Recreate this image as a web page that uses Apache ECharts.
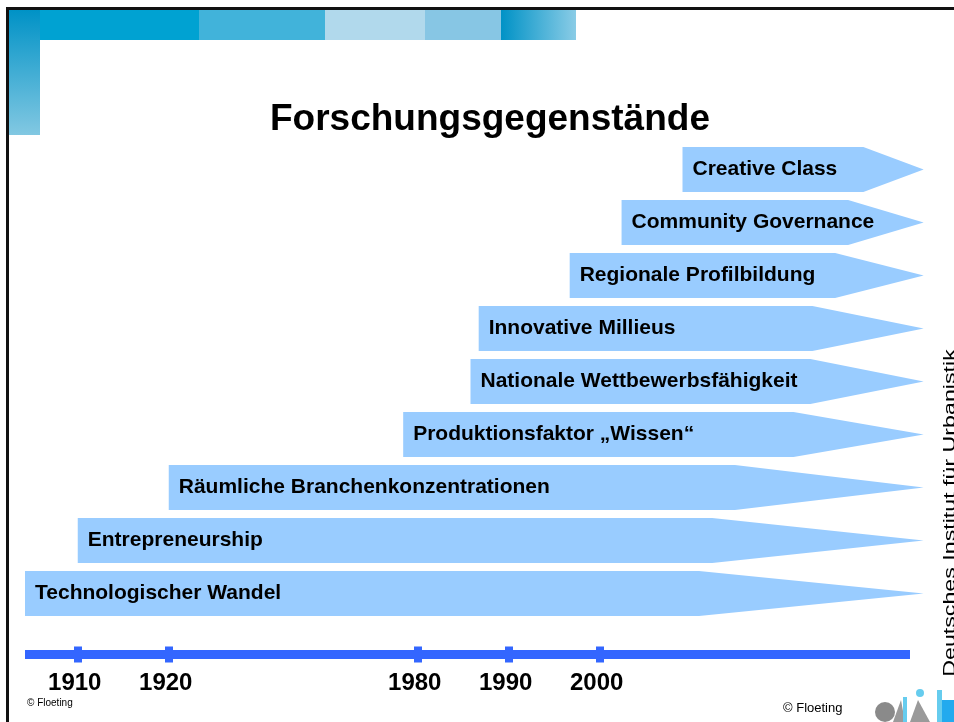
<!DOCTYPE html>
<html>
<head>
<meta charset="utf-8">
<title>Forschungsgegenstände</title>
<script src="https://cdn.jsdelivr.net/npm/echarts@6/dist/echarts.min.js"></script>
<style>
  html, body { margin: 0; padding: 0; background: #fff; }
  #chart { width: 954px; height: 722px; }
</style>
</head>
<body>
<div id="chart"></div>
<script>
// topics, bottom row first
const topics = [
  'Technologischer Wandel',
  'Entrepreneurship',
  'Räumliche Branchenkonzentrationen',
  'Produktionsfaktor „Wissen“',
  'Nationale Wettbewerbsfähigkeit',
  'Innovative Millieus',
  'Regionale Profilbildung',
  'Community Governance',
  'Creative Class',
]
const startYears = [1904.2, 1910, 1920, 1978.4, 1985.8, 1986.7, 1996.7, 2002.4, 2009.1]
const tickYears = [1910, 1920, 1980, 1990, 2000]

const AXIS_MIN = 1904.2
const AXIS_MAX = 2034.1
const ARROW_TIP = 2035.6
// the 1930s..1960s are squeezed on the timeline
const TIME_BREAKS = [{ start: 1930, end: 1970, gap: 7.36 }]

const FONT = '"Liberation Sans", Arial, sans-serif'
const BAR_COLOR = '#99ccff'
const LINE_COLOR = '#3366ff'

const chart = echarts.init(document.getElementById('chart'), null, { renderer: 'canvas' })

function renderArrow(params, api) {
  const row = api.value(1)
  const p0 = api.coord([api.value(0), row])
  const p1 = api.coord([ARROW_TIP, row])
  const h = api.size([0, 1])[1] * 0.85
  const x0 = p0[0]
  const x1 = p1[0]
  const y = p0[1]
  const xh = x0 + (x1 - x0) * 0.75
  return {
    type: 'group',
    children: [
      {
        type: 'polygon',
        shape: { points: [[x0, y - h / 2], [xh, y - h / 2], [x1, y], [xh, y + h / 2], [x0, y + h / 2]] },
        style: { fill: BAR_COLOR },
      },
      {
        type: 'text',
        x: x0 + 10,
        y: y,
        style: {
          text: topics[params.dataIndex],
          fill: '#000',
          font: 'bold 21px ' + FONT,
          verticalAlign: 'middle',
          align: 'left',
        },
      },
    ],
  }
}

const xBase = {
  type: 'value',
  min: AXIS_MIN,
  max: AXIS_MAX,
  breaks: TIME_BREAKS,
  breakArea: { show: false, itemStyle: { opacity: 0 } },
  position: 'bottom',
  offset: 34.5,
  splitLine: { show: false },
  axisLine: { show: false },
}

chart.setOption({
  animation: false,
  backgroundColor: '#fff',
  title: {
    text: 'Forschungsgegenstände',
    left: 265,
    top: 96,
    textStyle: { fontFamily: FONT, fontWeight: 'bold', fontSize: 37, color: '#000' },
  },
  grid: { left: 25, right: 44, top: 143, bottom: 102 },
  xAxis: [
    {
      // unbroken blue timeline bar
      type: 'value', min: 0, max: 1, position: 'bottom', offset: 34.5,
      splitLine: { show: false }, axisTick: { show: false }, axisLabel: { show: false },
      axisLine: { show: true, lineStyle: { color: LINE_COLOR, width: 9, cap: 'butt' } },
    },
    {
      ...xBase,
      axisTick: {
        show: true, customValues: tickYears, length: 8,
        lineStyle: { color: LINE_COLOR, width: 8, cap: 'butt' },
      },
      axisLabel: {
        show: true, customValues: tickYears, margin: 17,
        fontFamily: FONT, fontWeight: 'bold', fontSize: 24, color: '#000',
        padding: [0, 6, 0, 0],
        formatter: (v) => String(Math.round(v)),
      },
    },
    {
      ...xBase,
      axisTick: {
        show: true, inside: true, customValues: tickYears, length: 8,
        lineStyle: { color: LINE_COLOR, width: 8, cap: 'butt' },
      },
      axisLabel: { show: false },
    },
  ],
  yAxis: {
    type: 'category',
    data: topics,
    show: false,
  },
  series: [
    {
      type: 'custom',
      clip: false,
      xAxisIndex: 1,
      renderItem: renderArrow,
      encode: { x: 0, y: 1 },
      data: startYears.map((yr, i) => [yr, i]),
    },
  ],
  graphic: [
    // slide frame
    { type: 'rect', shape: { x: 6, y: 7, width: 948, height: 3 }, style: { fill: '#111' } },
    { type: 'rect', shape: { x: 6, y: 7, width: 3, height: 715 }, style: { fill: '#111' } },
    // header banner
    { type: 'rect', shape: { x: 40, y: 10, width: 159, height: 30 }, style: { fill: '#00a2d2' } },
    { type: 'rect', shape: { x: 199, y: 10, width: 126, height: 30 }, style: { fill: '#41b3da' } },
    { type: 'rect', shape: { x: 325, y: 10, width: 100, height: 30 }, style: { fill: '#b1d9ec' } },
    { type: 'rect', shape: { x: 425, y: 10, width: 76, height: 30 }, style: { fill: '#87c6e4' } },
    {
      type: 'rect', shape: { x: 501, y: 10, width: 75, height: 30 },
      style: {
        fill: new echarts.graphic.LinearGradient(0, 0, 1, 0, [
          { offset: 0, color: '#0092c6' }, { offset: 1, color: '#8acce6' },
        ]),
      },
    },
    {
      type: 'rect', shape: { x: 9, y: 10, width: 31, height: 125 },
      style: {
        fill: new echarts.graphic.LinearGradient(0, 0, 0, 1, [
          { offset: 0, color: '#0092c6' }, { offset: 1, color: '#82c8e2' },
        ]),
      },
    },
    // side caption
    {
      type: 'text', x: 951, y: 513, rotation: Math.PI / 2, scaleX: 1.45,
      style: {
        text: 'Deutsches Institut für Urbanistik', fill: '#000',
        font: '16px ' + FONT, align: 'center', verticalAlign: 'middle',
      },
    },
    // copyright notes
    { type: 'text', x: 27, y: 703, style: { text: '© Floeting', fill: '#000', font: '10px ' + FONT, verticalAlign: 'middle' } },
    { type: 'text', x: 783, y: 708, style: { text: '© Floeting', fill: '#000', font: '13px ' + FONT, verticalAlign: 'middle' } },
    // difu logo
    { type: 'circle', shape: { cx: 885, cy: 712, r: 10 }, style: { fill: '#8a8a8a' } },
    { type: 'polygon', shape: { points: [[893, 722], [901, 700], [905, 722]] }, style: { fill: '#9a9a9a' } },
    { type: 'rect', shape: { x: 903, y: 697, width: 4, height: 25 }, style: { fill: '#66ccee' } },
    { type: 'circle', shape: { cx: 920, cy: 693, r: 4 }, style: { fill: '#66ccee' } },
    { type: 'polygon', shape: { points: [[910, 722], [918, 700], [930, 722]] }, style: { fill: '#9a9a9a' } },
    { type: 'rect', shape: { x: 937, y: 690, width: 5, height: 32 }, style: { fill: '#66ccee' } },
    { type: 'rect', shape: { x: 942, y: 700, width: 12, height: 22 }, style: { fill: '#22aaee' } },
  ],
})
</script>
</body>
</html>
